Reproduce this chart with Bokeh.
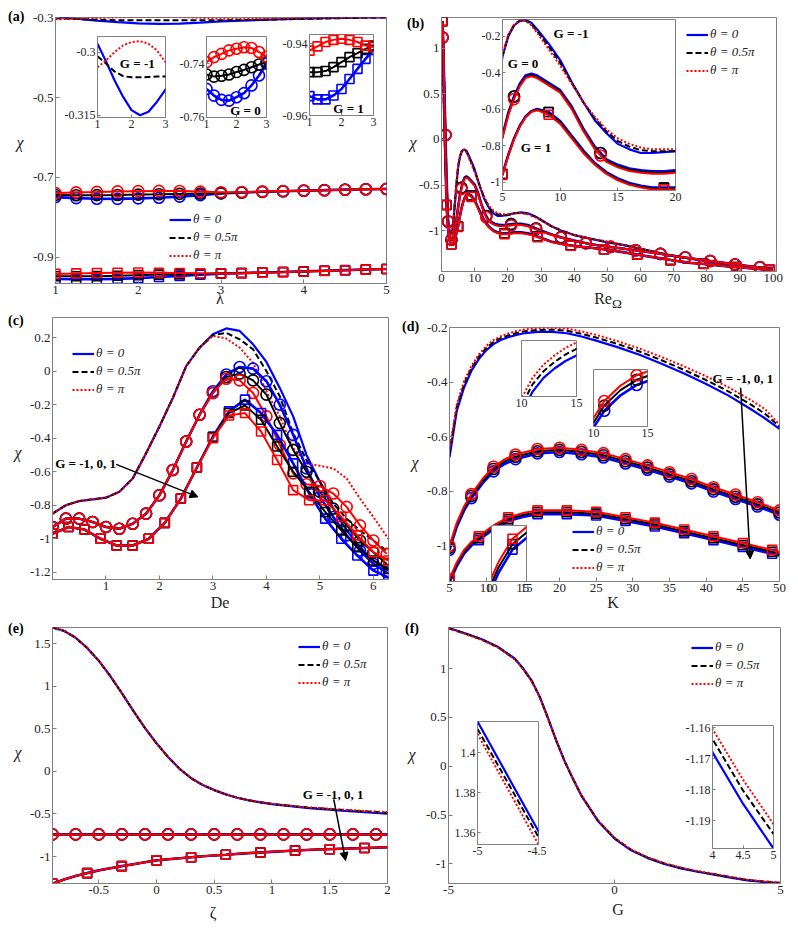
from bokeh.plotting import figure
from bokeh.models import (FixedTicker, Range1d, Legend, LegendItem, Label, Arrow,
                          NormalHead, GridBox, Div)
from bokeh.embed import file_html
from bokeh.resources import INLINE

FONT = "'Liberation Serif', 'Times New Roman', serif"
BLUE, BLACK, RED = "#0000ff", "#000000", "#ff0000"
COLORS = [BLUE, BLACK, RED]
AXC = "#808080"
TXT = "#262626"
THETA_LABELS = ["θ = 0", "θ = 0.5π", "θ = π"]
G_TEXT = "G = -1, 0, 1"
PANEL_NAMES = ["(a)", "(b)", "(c)", "(d)", "(e)", "(f)"]
X_NAMES = ["λ", "Re<sub>Ω</sub>", "De", "K", "ζ", "G"]
Y_NAME = "χ"

# ---------------- (a) chi vs lambda ----------------
A_XT = [1, 2, 3, 4, 5]
A_XTL = ["1", "2", "3", "4", "5"]
A_YT = [-0.9, -0.7, -0.5, -0.3]
A_YTL = ["-0.9", "-0.7", "-0.5", "-0.3"]
A_LAM = [1, 1.25, 1.5, 1.75, 2, 2.25, 2.5, 2.75, 3, 3.25, 3.5, 3.75, 4, 4.25, 4.5, 4.75, 5]
A_GM1_T0 = [-0.2980, -0.3022, -0.3067, -0.3106, -0.3138, -0.3150, -0.3142, -0.3118, -0.3089,
            -0.3068, -0.3050, -0.3034, -0.3020, -0.3008, -0.2998, -0.2990, -0.2985]
A_GM1_T05 = [-0.3010, -0.3027, -0.3046, -0.3057, -0.3060, -0.3060, -0.3059, -0.3058, -0.3058,
             -0.3052, -0.3044, -0.3035, -0.3025, -0.3015, -0.3005, -0.2997, -0.2990]
A_GM1_T1 = [-0.3036, -0.3020, -0.3000, -0.2984, -0.2976, -0.2974, -0.2980, -0.2996, -0.3024,
            -0.3022, -0.3015, -0.3008, -0.3002, -0.2997, -0.2993, -0.2990, -0.2987]
A_G0_T0 = [-0.7494, -0.7519, -0.7535, -0.7538, -0.7525, -0.7510, -0.7481, -0.7444, -0.7400,
           -0.7378, -0.7360, -0.7345, -0.7330, -0.7318, -0.7305, -0.7295, -0.7288]
A_G0_T05 = [-0.7440, -0.7448, -0.7445, -0.7440, -0.7431, -0.7423, -0.7413, -0.7403, -0.7394,
            -0.7378, -0.7362, -0.7347, -0.7333, -0.7320, -0.7308, -0.7297, -0.7290]
A_G0_T1 = [-0.7394, -0.7375, -0.7363, -0.7350, -0.7344, -0.7338, -0.7341, -0.7356, -0.7373,
           -0.7366, -0.7355, -0.7343, -0.7332, -0.7320, -0.7308, -0.7298, -0.7290]
A_G1_T0 = [-0.9546, -0.9555, -0.9555, -0.9544, -0.9526, -0.9498, -0.9470, -0.9442, -0.9417,
           -0.9400, -0.9385, -0.9370, -0.9355, -0.9340, -0.9325, -0.9310, -0.9295]
A_G1_T05 = [-0.9479, -0.9479, -0.9476, -0.9465, -0.9451, -0.9437, -0.9426, -0.9414, -0.9405,
            -0.9395, -0.9383, -0.9370, -0.9356, -0.9341, -0.9326, -0.9311, -0.9296]
A_G1_T1 = [-0.9419, -0.9407, -0.9395, -0.9389, -0.9386, -0.9389, -0.9395, -0.9405, -0.9409,
           -0.9400, -0.9388, -0.9375, -0.9360, -0.9344, -0.9328, -0.9312, -0.9296]
A_IN_XT = [1, 2, 3]
A_IN_XTL = ["1", "2", "3"]
A_IN1_YT = [-0.315, -0.3]
A_IN1_YTL = ["-0.315", "-0.3"]
A_IN2_YT = [-0.76, -0.74]
A_IN2_YTL = ["-0.76", "-0.74"]
A_IN3_YT = [-0.96, -0.94]
A_IN3_YTL = ["-0.96", "-0.94"]

# ---------------- (b) chi vs Re_Omega ----------------
B_XT = [0, 10, 20, 30, 40, 50, 60, 70, 80, 90, 100]
B_XTL = ["0", "10", "20", "30", "40", "50", "60", "70", "80", "90", "100"]
B_YT = [-1, -0.5, 0, 0.5, 1]
B_YTL = ["-1", "-0.5", "0", "0.5", "1"]
B_RE = [0.3, 0.6, 1, 1.5, 2, 2.5, 3, 3.5, 4, 4.5, 5, 5.5, 6, 6.5, 7, 7.5, 8, 9, 10, 11,
        12, 13, 14, 15, 16, 17, 18, 19, 20, 22, 24, 26, 28, 30, 33, 36, 40, 45, 50, 55,
        60, 65, 70, 75, 80, 85, 90, 95, 100]
B_GM1_T0 = [0.95, 0.55, -0.05, -0.62, -0.92, -1.03, -1.04, -0.95, -0.72, -0.50,
            -0.31, -0.20, -0.14, -0.115, -0.11, -0.125, -0.16, -0.24, -0.33, -0.45,
            -0.56, -0.66, -0.73, -0.79, -0.82, -0.84, -0.84, -0.835, -0.83,
            -0.81, -0.80, -0.81, -0.84, -0.88, -0.95, -1.0, -1.05, -1.09, -1.13,
            -1.16, -1.2, -1.24, -1.28, -1.31, -1.34, -1.37, -1.39, -1.41, -1.43]
B_GM1_T05 = [0.95, 0.55, -0.05, -0.62, -0.92, -1.03, -1.04, -0.945, -0.71, -0.49,
             -0.305, -0.195, -0.138, -0.112, -0.112, -0.132, -0.17, -0.255, -0.345, -0.455,
             -0.56, -0.65, -0.72, -0.775, -0.805, -0.825, -0.83, -0.83, -0.83,
             -0.81, -0.805, -0.815, -0.845, -0.885, -0.95, -1.0, -1.05, -1.09, -1.125,
             -1.16, -1.2, -1.24, -1.28, -1.31, -1.34, -1.37, -1.39, -1.41, -1.43]
B_GM1_T1 = [0.95, 0.55, -0.05, -0.62, -0.92, -1.03, -1.04, -0.94, -0.70, -0.48,
            -0.30, -0.19, -0.135, -0.11, -0.115, -0.14, -0.18, -0.27, -0.36, -0.46,
            -0.56, -0.64, -0.71, -0.76, -0.79, -0.81, -0.82, -0.82, -0.82,
            -0.81, -0.81, -0.82, -0.85, -0.89, -0.95, -1.0, -1.05, -1.09, -1.12,
            -1.16, -1.2, -1.24, -1.28, -1.31, -1.34, -1.37, -1.39, -1.41, -1.43]
B_G0_T0 = [1.12, 0.85, 0.35, -0.40, -0.90, -1.06, -1.10, -1.08, -1.0, -0.88,
           -0.745, -0.62, -0.53, -0.46, -0.415, -0.405, -0.415, -0.455, -0.495, -0.585,
           -0.705, -0.805, -0.875, -0.905, -0.925, -0.935, -0.94, -0.94, -0.935,
           -0.925, -0.925, -0.94, -0.97, -1.0, -1.04, -1.075, -1.11, -1.15, -1.175,
           -1.2, -1.225, -1.25, -1.28, -1.305, -1.33, -1.355, -1.38, -1.40, -1.42]
B_G0_T05 = [1.12, 0.85, 0.35, -0.40, -0.90, -1.06, -1.10, -1.08, -1.0, -0.88,
            -0.75, -0.627, -0.537, -0.467, -0.422, -0.412, -0.422, -0.462, -0.502, -0.592,
            -0.712, -0.812, -0.882, -0.912, -0.932, -0.942, -0.947, -0.947, -0.942,
            -0.932, -0.932, -0.947, -0.975, -1.005, -1.043, -1.077, -1.112, -1.151, -1.176,
            -1.2, -1.225, -1.25, -1.28, -1.305, -1.33, -1.355, -1.38, -1.40, -1.42]
B_G0_T1 = [1.12, 0.85, 0.35, -0.40, -0.90, -1.06, -1.10, -1.08, -1.0, -0.88,
           -0.755, -0.634, -0.544, -0.474, -0.429, -0.419, -0.429, -0.469, -0.509, -0.599,
           -0.719, -0.819, -0.889, -0.919, -0.939, -0.949, -0.954, -0.954, -0.949,
           -0.939, -0.939, -0.954, -0.98, -1.01, -1.046, -1.079, -1.113, -1.152, -1.177,
           -1.2, -1.225, -1.25, -1.28, -1.305, -1.33, -1.355, -1.38, -1.40, -1.42]
B_G1_T0 = [1.30, 1.0, 0.15, -0.72, -1.0, -1.12, -1.15, -1.14, -1.10, -1.03,
           -0.955, -0.85, -0.76, -0.69, -0.64, -0.61, -0.598, -0.615, -0.665, -0.745,
           -0.825, -0.895, -0.945, -0.98, -1.005, -1.02, -1.03, -1.03, -1.03,
           -1.02, -1.02, -1.03, -1.05, -1.08, -1.12, -1.145, -1.17, -1.19, -1.21,
           -1.24, -1.27, -1.30, -1.33, -1.355, -1.37, -1.39, -1.405, -1.42, -1.435]
B_G1_T05 = [1.30, 1.0, 0.15, -0.72, -1.0, -1.12, -1.15, -1.14, -1.10, -1.03,
            -0.958, -0.852, -0.762, -0.692, -0.642, -0.612, -0.601, -0.622, -0.672, -0.752,
            -0.832, -0.9, -0.95, -0.985, -1.01, -1.025, -1.035, -1.035, -1.035,
            -1.025, -1.025, -1.035, -1.055, -1.084, -1.122, -1.146, -1.171, -1.19, -1.21,
            -1.24, -1.27, -1.30, -1.33, -1.355, -1.37, -1.39, -1.405, -1.42, -1.435]
B_G1_T1 = [1.30, 1.0, 0.15, -0.72, -1.0, -1.12, -1.15, -1.14, -1.10, -1.03,
           -0.96, -0.855, -0.765, -0.695, -0.645, -0.615, -0.605, -0.63, -0.68, -0.76,
           -0.84, -0.905, -0.955, -0.99, -1.015, -1.03, -1.04, -1.04, -1.04,
           -1.03, -1.03, -1.04, -1.06, -1.088, -1.125, -1.148, -1.172, -1.19, -1.21,
           -1.24, -1.27, -1.30, -1.33, -1.355, -1.37, -1.39, -1.405, -1.42, -1.435]
B_CIRC_RE = [0.3, 1.2, 2, 3, 6, 13.5, 21, 28.5, 36, 43.5, 51, 58.5, 66, 73.5, 81, 88.5, 96]
B_CIRC_T0 = [1.12, 0.05, -0.90, -1.10, -0.53, -0.84, -0.93, -0.977, -1.075, -1.138, -1.18,
             -1.217, -1.256, -1.297, -1.335, -1.373, -1.404]
B_CIRC_T1 = [1.12, 0.05, -0.90, -1.10, -0.544, -0.854, -0.944, -0.985, -1.079, -1.14, -1.18,
             -1.217, -1.256, -1.297, -1.335, -1.373, -1.404]
B_SQ_RE = [0.3, 1.5, 3, 5, 9, 19, 29, 39, 49, 59, 69, 79, 89, 99]
B_SQ_T0 = [1.30, -0.72, -1.15, -0.955, -0.615, -1.03, -1.065, -1.165, -1.205, -1.265, -1.325,
           -1.365, -1.40, -1.432]
B_SQ_T1 = [1.30, -0.72, -1.15, -0.96, -0.63, -1.04, -1.074, -1.167, -1.206, -1.265, -1.325,
           -1.367, -1.402, -1.432]
B_IN_XT = [5, 10, 15, 20]
B_IN_XTL = ["5", "10", "15", "20"]
B_IN_YT = [-1, -0.8, -0.6, -0.4, -0.2]
B_IN_YTL = ["-1", "-0.8", "-0.6", "-0.4", "-0.2"]

# ---------------- (c) chi vs De ----------------
C_XT = [1, 2, 3, 4, 5, 6]
C_XTL = ["1", "2", "3", "4", "5", "6"]
C_YT = [-1.2, -1, -0.8, -0.6, -0.4, -0.2, 0, 0.2]
C_YTL = ["-1.2", "-1", "-0.8", "-0.6", "-0.4", "-0.2", "0", "0.2"]
C_DE = [0, 0.25, 0.5, 0.75, 1.0, 1.25, 1.5, 1.75, 2.0, 2.25, 2.5, 2.75, 3.0, 3.25, 3.5,
        3.75, 4.0, 4.25, 4.5, 4.75, 5.0, 5.25, 5.5, 5.75, 6.0, 6.28]
C_GM1_T0 = [-0.85, -0.80, -0.775, -0.765, -0.755, -0.72, -0.64, -0.49, -0.33, -0.16, 0.03,
            0.14, 0.22, 0.255, 0.24, 0.16, 0.055, -0.10, -0.27, -0.50, -0.66, -0.82, -0.95,
            -1.05, -1.13, -1.19]
C_GM1_T05 = [-0.85, -0.80, -0.775, -0.765, -0.755, -0.72, -0.64, -0.49, -0.33, -0.16, 0.03,
             0.14, 0.215, 0.228, 0.19, 0.13, 0.0, -0.15, -0.37, -0.53, -0.66, -0.79, -0.88,
             -0.95, -1.01, -1.08]
C_GM1_T1 = [-0.85, -0.80, -0.775, -0.765, -0.755, -0.72, -0.64, -0.49, -0.33, -0.16, 0.03,
            0.14, 0.21, 0.195, 0.14, 0.05, -0.12, -0.27, -0.46, -0.55, -0.565, -0.58, -0.64,
            -0.76, -0.87, -1.0]
C_DE_C = [0, 0.25, 0.5, 0.75, 1.0, 1.25, 1.5, 1.75, 2.0, 2.25, 2.5, 2.75, 3.0, 3.25, 3.5,
          3.75, 4.0, 4.25, 4.5, 4.75, 5.0, 5.25, 5.5, 5.75, 6.0, 6.25]
C_G0_T0 = [-0.93, -0.88, -0.88, -0.90, -0.93, -0.94, -0.91, -0.85, -0.74, -0.59, -0.42,
           -0.26, -0.12, -0.02, 0.025, 0.015, -0.06, -0.20, -0.38, -0.58, -0.75, -0.87,
           -0.98, -1.07, -1.15, -1.20]
C_G0_T05 = [-0.93, -0.88, -0.88, -0.90, -0.93, -0.94, -0.91, -0.85, -0.74, -0.59, -0.42,
            -0.26, -0.13, -0.035, -0.015, -0.055, -0.14, -0.31, -0.47, -0.60, -0.72, -0.82,
            -0.92, -1.01, -1.08, -1.15]
C_G0_T1 = [-0.93, -0.88, -0.88, -0.90, -0.93, -0.94, -0.91, -0.85, -0.74, -0.59, -0.42,
           -0.26, -0.13, -0.045, -0.055, -0.13, -0.27, -0.44, -0.61, -0.675, -0.685, -0.73,
           -0.81, -0.92, -1.01, -1.09]
C_DE_S = [0, 0.3, 0.6, 0.9, 1.2, 1.5, 1.8, 2.1, 2.4, 2.7, 3.0, 3.3, 3.6, 3.9, 4.2, 4.5,
          4.8, 5.1, 5.4, 5.7, 6.0, 6.28]
C_G1_T0 = [-0.97, -0.93, -0.945, -1.0, -1.04, -1.04, -1.0, -0.905, -0.76, -0.575, -0.39,
           -0.24, -0.17, -0.25, -0.38, -0.55, -0.73, -0.88, -1.0, -1.1, -1.19, -1.23]
C_G1_T05 = [-0.97, -0.93, -0.945, -1.0, -1.04, -1.04, -1.0, -0.905, -0.76, -0.575, -0.395,
            -0.25, -0.205, -0.29, -0.45, -0.60, -0.72, -0.84, -0.95, -1.05, -1.13, -1.18]
C_G1_T1 = [-0.97, -0.93, -0.945, -1.0, -1.04, -1.04, -1.0, -0.905, -0.76, -0.575, -0.40,
           -0.265, -0.25, -0.36, -0.53, -0.71, -0.77, -0.77, -0.87, -0.98, -1.08, -1.13]

# ---------------- (d) chi vs K ----------------
D_XT = [5, 10, 15, 20, 25, 30, 35, 40, 45, 50]
D_XTL = ["5", "10", "15", "20", "25", "30", "35", "40", "45", "50"]
D_YT = [-1, -0.8, -0.6, -0.4, -0.2]
D_YTL = ["-1", "-0.8", "-0.6", "-0.4", "-0.2"]
D_K1 = [5, 6, 7, 8, 9, 10, 11, 12, 13, 14, 15, 17, 19, 21, 23, 25, 28, 31, 34, 37, 40, 43,
        46, 48, 50]
D_GM1_T0 = [-0.675, -0.504, -0.418, -0.357, -0.315, -0.283, -0.26, -0.245, -0.235, -0.227,
            -0.221, -0.215, -0.215, -0.22, -0.232, -0.247, -0.272, -0.3, -0.333, -0.368,
            -0.406, -0.448, -0.497, -0.532, -0.571]
D_GM1_T05 = [-0.66, -0.49, -0.405, -0.348, -0.306, -0.275, -0.252, -0.238, -0.228, -0.22,
             -0.214, -0.208, -0.207, -0.211, -0.222, -0.236, -0.26, -0.288, -0.32, -0.355,
             -0.392, -0.433, -0.48, -0.515, -0.563]
D_GM1_T1 = [-0.645, -0.48, -0.395, -0.34, -0.298, -0.267, -0.245, -0.231, -0.221, -0.213,
            -0.207, -0.201, -0.2, -0.203, -0.213, -0.226, -0.25, -0.277, -0.308, -0.342,
            -0.378, -0.418, -0.464, -0.498, -0.555]
D_K0 = [5, 6, 7, 8, 9.5, 11, 12.5, 14, 17, 20, 23, 26, 29, 32, 35, 38, 41, 44, 47, 50]
D_G0_T0 = [-1.015, -0.93, -0.87, -0.825, -0.771, -0.727, -0.7, -0.682, -0.661, -0.656,
           -0.664, -0.676, -0.698, -0.721, -0.746, -0.771, -0.801, -0.828, -0.856, -0.886]
D_G0_T05 = [-1.007, -0.922, -0.862, -0.817, -0.763, -0.718, -0.691, -0.673, -0.653, -0.648,
            -0.656, -0.668, -0.69, -0.713, -0.738, -0.763, -0.793, -0.82, -0.848, -0.878]
D_G0_T1 = [-1.0, -0.915, -0.855, -0.81, -0.755, -0.71, -0.683, -0.665, -0.645, -0.64,
           -0.648, -0.66, -0.682, -0.705, -0.73, -0.755, -0.785, -0.812, -0.84, -0.87]
D_G0_MARK_K = [5, 8, 11, 14, 17, 20, 23, 26, 29, 32, 35, 38, 41, 44, 47, 50]
D_KP = [5, 6, 7, 8, 9, 11, 13, 15, 17, 21, 25, 29, 33, 37, 41, 45, 49, 50]
D_G1_T0 = [-1.134, -1.074, -1.029, -0.999, -0.979, -0.939, -0.909, -0.894, -0.884, -0.884,
           -0.889, -0.909, -0.929, -0.954, -0.979, -1.004, -1.029, -1.036]
D_G1_T05 = [-1.127, -1.067, -1.022, -0.992, -0.972, -0.932, -0.902, -0.887, -0.877, -0.877,
            -0.882, -0.902, -0.922, -0.947, -0.972, -0.997, -1.022, -1.029]
D_G1_T1 = [-1.12, -1.06, -1.015, -0.985, -0.965, -0.925, -0.895, -0.88, -0.87, -0.87,
           -0.875, -0.895, -0.915, -0.94, -0.965, -0.99, -1.015, -1.022]
D_G1_MARK_K = [5, 9, 13, 17, 21, 25, 29, 33, 37, 41, 45, 49]
D_IN_XT = [10, 15]
D_IN_XTL = ["10", "15"]

# ---------------- (e) chi vs zeta ----------------
E_XT = [-0.5, 0, 0.5, 1, 1.5, 2]
E_XTL = ["-0.5", "0", "0.5", "1", "1.5", "2"]
E_YT = [-1, -0.5, 0, 0.5, 1, 1.5]
E_YTL = ["-1", "-0.5", "0", "0.5", "1", "1.5"]
E_Z = [-0.9, -0.8, -0.7, -0.6, -0.5, -0.4, -0.3, -0.2, -0.1, 0.0, 0.1, 0.2, 0.3, 0.4, 0.5,
       0.6, 0.7, 0.8, 0.9, 1.0, 1.1, 1.2, 1.3, 1.4, 1.5, 1.6, 1.7, 1.8, 1.9, 2.0]
E_GM1_T0 = [1.69, 1.65, 1.57, 1.45, 1.30, 1.12, 0.92, 0.71, 0.51, 0.33, 0.17, 0.03, -0.08,
            -0.16, -0.22, -0.27, -0.31, -0.34, -0.365, -0.385, -0.40, -0.415, -0.428, -0.44,
            -0.45, -0.46, -0.47, -0.48, -0.489, -0.497]
E_GM1_T05 = [1.69, 1.65, 1.57, 1.45, 1.30, 1.12, 0.92, 0.71, 0.51, 0.33, 0.17, 0.03, -0.08,
             -0.16, -0.22, -0.27, -0.31, -0.34, -0.363, -0.382, -0.397, -0.41, -0.422, -0.433,
             -0.443, -0.452, -0.461, -0.469, -0.477, -0.485]
E_GM1_T1 = [1.69, 1.65, 1.57, 1.45, 1.30, 1.12, 0.92, 0.71, 0.51, 0.33, 0.17, 0.03, -0.08,
            -0.16, -0.22, -0.27, -0.31, -0.338, -0.36, -0.38, -0.395, -0.408, -0.42, -0.43,
            -0.44, -0.449, -0.457, -0.465, -0.472, -0.478]
E_Z_G0_LINE = [-0.9, 2.0]
E_G0_LINE = [-0.74, -0.74]
E_Z_C = [-0.9, -0.7, -0.5, -0.3, -0.1, 0.1, 0.3, 0.5, 0.7, 0.9, 1.1, 1.3, 1.5, 1.7, 1.9]
E_G0_C = [-0.74, -0.74, -0.74, -0.74, -0.74, -0.74, -0.74, -0.74, -0.74, -0.74, -0.74, -0.74,
          -0.74, -0.74, -0.74]
E_Z_G1 = [-0.9, -0.8, -0.7, -0.6, -0.5, -0.4, -0.3, -0.2, -0.1, 0.0, 0.2, 0.4, 0.6, 0.8,
          1.0, 1.2, 1.4, 1.6, 1.8, 2.0]
E_G1_LINE = [-1.32, -1.27, -1.23, -1.195, -1.163, -1.137, -1.113, -1.09, -1.067, -1.045,
             -1.02, -0.997, -0.98, -0.96, -0.945, -0.93, -0.918, -0.908, -0.90, -0.892]
E_Z_S = [-0.9, -0.6, -0.3, 0.0, 0.3, 0.6, 0.9, 1.2, 1.5, 1.8]
E_G1_S = [-1.32, -1.195, -1.113, -1.045, -1.008, -0.98, -0.952, -0.93, -0.914, -0.90]

# ---------------- (f) chi vs G ----------------
F_XT = [-5, 0, 5]
F_XTL = ["-5", "0", "5"]
F_YT = [-1, -0.5, 0, 0.5, 1]
F_YTL = ["-1", "-0.5", "0", "0.5", "1"]
F_G = [-5, -4.5, -4, -3.5, -3, -2.75, -2.5, -2.25, -2, -1.75, -1.5, -1.25, -1, -0.5, 0, 0.5,
       1, 1.5, 2, 2.5, 3, 3.5, 4, 4.5, 5]
F_T0 = [1.4155, 1.3606, 1.30, 1.22, 1.10, 1.00, 0.88, 0.71, 0.49, 0.26, 0.05, -0.13, -0.30,
        -0.56, -0.74, -0.86, -0.94, -1.00, -1.045, -1.08, -1.11, -1.14, -1.1679, -1.1845,
        -1.1990]
F_T05 = [1.4118, 1.3577, 1.297, 1.217, 1.097, 0.997, 0.877, 0.707, 0.488, 0.259, 0.05,
         -0.128, -0.297, -0.556, -0.736, -0.856, -0.936, -0.996, -1.041, -1.076, -1.106,
         -1.136, -1.1636, -1.1802, -1.1943]
F_T1 = [1.4093, 1.3540, 1.293, 1.213, 1.093, 0.993, 0.873, 0.703, 0.485, 0.257, 0.05,
        -0.126, -0.294, -0.552, -0.732, -0.852, -0.932, -0.992, -1.037, -1.072, -1.102,
        -1.132, -1.1603, -1.1767, -1.1911]
F_IN1_XT = [-5, -4.5]
F_IN1_XTL = ["-5", "-4.5"]
F_IN1_YT = [1.36, 1.38, 1.4]
F_IN1_YTL = ["1.36", "1.38", "1.4"]
F_IN2_XT = [4, 4.5, 5]
F_IN2_XTL = ["4", "4.5", "5"]
F_IN2_YT = [-1.19, -1.18, -1.17, -1.16]
F_IN2_YTL = ["-1.19", "-1.18", "-1.17", "-1.16"]

# ---------------- layout constants (borders shared per grid row / column) ----------------
ROW_T = [9, 7, 7]
ROW_B = 20
COL_L = [44, 41]
COL_R = [6, 8]


# ---------------- helpers ----------------
def style_axis(ax, ticks, labels, fs):
    ax.ticker = FixedTicker(ticks=ticks)
    ax.major_label_overrides = {t: l for t, l in zip(ticks, labels)}
    ax.major_label_text_font = FONT
    ax.major_label_text_font_size = fs
    ax.major_label_text_color = TXT
    ax.major_label_standoff = 2
    ax.axis_line_color = AXC
    ax.major_tick_line_color = AXC
    ax.major_tick_in = 4
    ax.major_tick_out = 0
    ax.minor_tick_line_color = None


def main_fig(row, col, w, h, margin, xr, yr, xt, xtl, yt, ytl):
    p = figure(width=w, height=h, x_range=Range1d(*xr), y_range=Range1d(*yr),
               output_backend="svg", toolbar_location=None, title=None,
               min_border_left=COL_L[col], min_border_right=COL_R[col],
               min_border_top=ROW_T[row], min_border_bottom=ROW_B, margin=margin)
    p.xgrid.visible = False
    p.ygrid.visible = False
    p.outline_line_color = AXC
    p.background_fill_color = "white"
    p.border_fill_color = None
    style_axis(p.xaxis[0], xt, xtl, "13px")
    style_axis(p.yaxis[0], yt, ytl, "13px")
    return p


def inset_fig(row, col, box, xr, yr, xt, xtl, yt=None, ytl=None):
    x0, y0, x1, y1 = box
    L, T = COL_L[col], ROW_T[row]
    p = figure(frame_width=x1 - x0, frame_height=y1 - y0,
               x_range=Range1d(*xr), y_range=Range1d(*yr),
               output_backend="svg", toolbar_location=None, title=None,
               min_border_left=L, min_border_right=COL_R[col], min_border_top=T,
               min_border_bottom=ROW_B, margin=(y0 - T, 0, 0, x0 - L))
    p.xgrid.visible = False
    p.ygrid.visible = False
    p.outline_line_color = AXC
    p.background_fill_color = "white"
    p.border_fill_color = None
    style_axis(p.xaxis[0], xt, xtl, "12px")
    p.xaxis[0].major_tick_in = 3
    if yt is None:
        p.yaxis[0].visible = False
    else:
        style_axis(p.yaxis[0], yt, ytl, "12px")
        p.yaxis[0].major_tick_in = 3
    return p


def text_div(html, top, left, w, h, size="16px", weight="normal", style="normal"):
    return Div(text=html, width=w, height=h, margin=(top, 0, 0, left),
               styles={"font-family": FONT, "font-weight": weight, "font-style": style,
                       "font-size": size, "line-height": f"{h}px", "color": TXT,
                       "text-align": "center", "white-space": "nowrap"})


def panel_div(text, top, left):
    return Div(text=text, width=30, height=18, margin=(top, 0, 0, left),
               styles={"font-family": FONT, "font-weight": "bold", "font-size": "14px",
                       "line-height": "18px", "color": "black"})


def draw_lines(p, x, ys):
    rs = []
    for y, c, d, w in zip(ys, COLORS, ["solid", "6 3", "2 2"], [2.2, 2.0, 2.0]):
        rs.append(p.line(x, y, line_color=c, line_width=w, line_dash=d))
    return rs


def draw_marked(p, x, ys, mx, mys, marker, size):
    for y, my, c, w in zip(ys, mys, COLORS, [2.6, 2.0, 2.0]):
        p.line(x, y, line_color=c, line_width=w)
        p.scatter(mx, my, marker=marker, size=size, fill_color=None, line_color=c,
                  line_width=1.6)


def add_legend(p, rs, loc):
    items = [LegendItem(label=t, renderers=[r]) for t, r in zip(THETA_LABELS, rs)]
    lg = Legend(items=items, location=loc, border_line_color=None,
                background_fill_alpha=0, label_text_font=FONT,
                label_text_font_style="italic", label_text_font_size="13px",
                label_text_color=TXT, glyph_width=22, glyph_height=15, label_height=15,
                spacing=2, padding=2, margin=0, label_standoff=2)
    p.add_layout(lg)


def bold_text(p, text, x, y, align="center"):
    p.add_layout(Label(x=x, y=y, text=text, text_font=FONT, text_font_style="bold",
                       text_font_size="13px", text_baseline="middle", text_align=align,
                       text_color=BLACK))


def arrow(p, xs, ys, xe, ye):
    p.add_layout(Arrow(end=NormalHead(size=8, fill_color=BLACK, line_color=BLACK),
                       x_start=xs, y_start=ys, x_end=xe, y_end=ye,
                       line_color=BLACK, line_width=1.5))


def pick(xs, ys, keep):
    return [y for x, y in zip(xs, ys) if x in keep]


# ---------------- (a) ----------------
A_GM1 = [A_GM1_T0, A_GM1_T05, A_GM1_T1]
A_G0 = [A_G0_T0, A_G0_T05, A_G0_T1]
A_G1 = [A_G1_T0, A_G1_T05, A_G1_T1]
pa = main_fig(0, 0, 381, 295, (0, 0, 7, 3), (1, 5), (-0.966, -0.299),
              A_XT, A_XTL, A_YT, A_YTL)
ra = draw_lines(pa, A_LAM, A_GM1)
draw_marked(pa, A_LAM, A_G0, A_LAM, A_G0, "circle", 11)
draw_marked(pa, A_LAM, A_G1, A_LAM, A_G1, "square", 9)
add_legend(pa, ra, (114, 20))

a1 = inset_fig(0, 0, (89, 28, 157, 109), (1, 3), (-0.31555, -0.29628), A_IN_XT, A_IN_XTL,
               A_IN1_YT, A_IN1_YTL)
draw_lines(a1, A_LAM, A_GM1)
bold_text(a1, "G = -1", 2.17, -0.3028)
a2 = inset_fig(0, 0, (198, 28, 258, 109), (1, 3), (-0.7601, -0.7298), A_IN_XT, A_IN_XTL,
               A_IN2_YT, A_IN2_YTL)
draw_marked(a2, A_LAM, A_G0, A_LAM, A_G0, "circle", 11)
bold_text(a2, "G = 0", 2.3, -0.7575)
a3 = inset_fig(0, 0, (301, 26, 365, 107), (1, 3), (-0.96, -0.9374), A_IN_XT, A_IN_XTL,
               A_IN3_YT, A_IN3_YTL)
draw_marked(a3, A_LAM, A_G1, A_LAM, A_G1, "square", 9)
bold_text(a3, "G = 1", 2.22, -0.958)

# ---------------- (b) ----------------
B_GM1 = [B_GM1_T0, B_GM1_T05, B_GM1_T1]
B_G0 = [B_G0_T0, B_G0_T05, B_G0_T1]
B_G1 = [B_G1_T0, B_G1_T05, B_G1_T1]
B_CI = [B_CIRC_T0, B_CIRC_T0, B_CIRC_T1]
B_SQ = [B_SQ_T0, B_SQ_T0, B_SQ_T1]
pb = main_fig(0, 1, 384, 283, (0, 0, 0, 0), (0, 101), (-1.45, 1.34),
              B_XT, B_XTL, B_YT, B_YTL)
rb = draw_lines(pb, B_RE, B_GM1)
draw_marked(pb, B_RE, B_G0, B_CIRC_RE, B_CI, "circle", 11)
draw_marked(pb, B_RE, B_G1, B_SQ_RE, B_SQ, "square", 9)
add_legend(pb, rb, (245, 193))

b1 = inset_fig(0, 1, (102, 11, 275, 182), (5, 20), (-1.046, -0.107), B_IN_XT, B_IN_XTL,
               B_IN_YT, B_IN_YTL)
draw_lines(b1, B_RE, B_GM1)
draw_marked(b1, B_RE, B_G0, B_CIRC_RE, B_CI, "circle", 11)
draw_marked(b1, B_RE, B_G1, B_SQ_RE, B_SQ, "square", 9)
bold_text(b1, "G = -1", 10.94, -0.184)
bold_text(b1, "G = 0", 6.78, -0.349)
bold_text(b1, "G = 1", 7.9, -0.809)

# ---------------- (c) ----------------
pc = main_fig(1, 0, 386, 289, (0, 6, 21, 0), (0, 6.283), (-1.243, 0.32),
              C_XT, C_XTL, C_YT, C_YTL)
rc = draw_lines(pc, C_DE, [C_GM1_T0, C_GM1_T05, C_GM1_T1])
draw_marked(pc, C_DE_C, [C_G0_T0, C_G0_T05, C_G0_T1], C_DE_C,
            [C_G0_T0, C_G0_T05, C_G0_T1], "circle", 11)
draw_marked(pc, C_DE_S, [C_G1_T0, C_G1_T05, C_G1_T1], C_DE_S,
            [C_G1_T0, C_G1_T05, C_G1_T1], "square", 9)
add_legend(pc, rc, (20, 182))
bold_text(pc, G_TEXT, 0.05, -0.55, align="left")
arrow(pc, 1.19, -0.556, 2.72, -0.75)

# ---------------- (d) ----------------
D_GM1 = [D_GM1_T0, D_GM1_T05, D_GM1_T1]
D_G0 = [D_G0_T0, D_G0_T05, D_G0_T1]
D_G1 = [D_G1_T0, D_G1_T05, D_G1_T1]
D_G0_MX = pick(D_K0, D_K0, D_G0_MARK_K)
D_G0_MY = [pick(D_K0, y, D_G0_MARK_K) for y in D_G0]
D_G1_MX = pick(D_KP, D_KP, D_G1_MARK_K)
D_G1_MY = [pick(D_KP, y, D_G1_MARK_K) for y in D_G1]
pd = main_fig(1, 1, 379, 281, (10, 0, 0, 8), (5, 50), (-1.131, -0.199),
              D_XT, D_XTL, D_YT, D_YTL)
rd = draw_lines(pd, D_K1, D_GM1)
draw_marked(pd, D_K0, D_G0, D_G0_MX, D_G0_MY, "circle", 11)
draw_marked(pd, D_KP, D_G1, D_G1_MX, D_G1_MY, "square", 9)
add_legend(pd, rd, (123, 6))
bold_text(pd, G_TEXT, 45, -0.385)
arrow(pd, 44.7, -0.42, 46.0, -1.048)

d1 = inset_fig(1, 1, (121, 30, 176, 86), (10, 15), (-0.265, -0.205), D_IN_XT, D_IN_XTL)
draw_lines(d1, D_K1, D_GM1)
d2 = inset_fig(1, 1, (193, 59, 247, 116), (10, 15), (-0.7545, -0.655), D_IN_XT, D_IN_XTL)
draw_marked(d2, D_K0, D_G0, D_G0_MX, D_G0_MY, "circle", 11)
d3 = inset_fig(1, 1, (91, 215, 126, 271), (10, 15), (-0.95, -0.878), D_IN_XT, D_IN_XTL)
draw_marked(d3, D_KP, D_G1, D_G1_MX, D_G1_MY, "square", 9)

# ---------------- (e) ----------------
pe = main_fig(2, 0, 385, 283, (0, 0, 0, 0), (-0.9, 2), (-1.317, 1.69),
              E_XT, E_XTL, E_YT, E_YTL)
re_ = draw_lines(pe, E_Z, [E_GM1_T0, E_GM1_T05, E_GM1_T1])
draw_marked(pe, E_Z_G0_LINE, [E_G0_LINE, E_G0_LINE, E_G0_LINE], E_Z_C,
            [E_G0_C, E_G0_C, E_G0_C], "circle", 11)
draw_marked(pe, E_Z_G1, [E_G1_LINE, E_G1_LINE, E_G1_LINE], E_Z_S,
            [E_G1_S, E_G1_S, E_G1_S], "square", 9)
add_legend(pe, re_, (246, 193))
bold_text(pe, G_TEXT, 1.529, -0.271)
arrow(pe, 1.535, -0.33, 1.637, -1.047)

# ---------------- (f) ----------------
F_ALL = [F_T0, F_T05, F_T1]
pf = main_fig(2, 1, 381, 283, (0, 0, 0, 7), (-5, 5), (-1.2, 1.42),
              F_XT, F_XTL, F_YT, F_YTL)
rf = draw_lines(pf, F_G, F_ALL)
add_legend(pf, rf, (243, 192))
f1 = inset_fig(2, 1, (77, 101, 138, 224), (-5, -4.5), (1.354, 1.4155), F_IN1_XT, F_IN1_XTL,
               F_IN1_YT, F_IN1_YTL)
draw_lines(f1, F_G, F_ALL)
f2 = inset_fig(2, 1, (312, 105, 373, 228), (4, 5), (-1.199, -1.1592), F_IN2_XT, F_IN2_XTL,
               F_IN2_YT, F_IN2_YTL)
draw_lines(f2, F_G, F_ALL)

# ---------------- text overlays (cell-relative positions) ----------------
overlays = {
    (0, 0): [panel_div(PANEL_NAMES[0], 0, 0),
             text_div(X_NAMES[0], 281, 197, 30, 20),
             text_div(Y_NAME, 125, 2, 20, 20, style="italic")],
    (0, 1): [panel_div(PANEL_NAMES[1], 7, 7),
             text_div(X_NAMES[1], 280, 183, 50, 22),
             text_div(Y_NAME, 125, 3, 20, 20, style="italic")],
    (1, 0): [panel_div(PANEL_NAMES[2], 2, 0),
             text_div(X_NAMES[2], 283, 192, 40, 20),
             text_div(Y_NAME, 133, 0, 20, 20, style="italic")],
    (1, 1): [panel_div(PANEL_NAMES[3], 8, 2),
             text_div(X_NAMES[3], 283, 198, 30, 20),
             text_div(Y_NAME, 143, 5, 20, 20, style="italic")],
    (2, 0): [panel_div(PANEL_NAMES[4], 0, 0),
             text_div(X_NAMES[4], 283, 190, 30, 20),
             text_div(Y_NAME, 123, 0, 20, 20, style="italic")],
    (2, 1): [panel_div(PANEL_NAMES[5], 0, 5),
             text_div(X_NAMES[5], 280, 203, 30, 20),
             text_div(Y_NAME, 125, 2, 20, 20, style="italic")],
}

children = [
    (pa, 0, 0), (a1, 0, 0), (a2, 0, 0), (a3, 0, 0),
    (pb, 0, 1), (b1, 0, 1),
    (pc, 1, 0),
    (pd, 1, 1), (d1, 1, 1), (d2, 1, 1), (d3, 1, 1),
    (pe, 2, 0),
    (pf, 2, 1), (f1, 2, 1), (f2, 2, 1),
]
for (r, c), divs in overlays.items():
    for d in divs:
        children.append((d, r, c))

grid = GridBox(children=children, spacing=0, margin=(8, 0, 0, 8))

open("out.html", "w").write(file_html(grid, INLINE))
